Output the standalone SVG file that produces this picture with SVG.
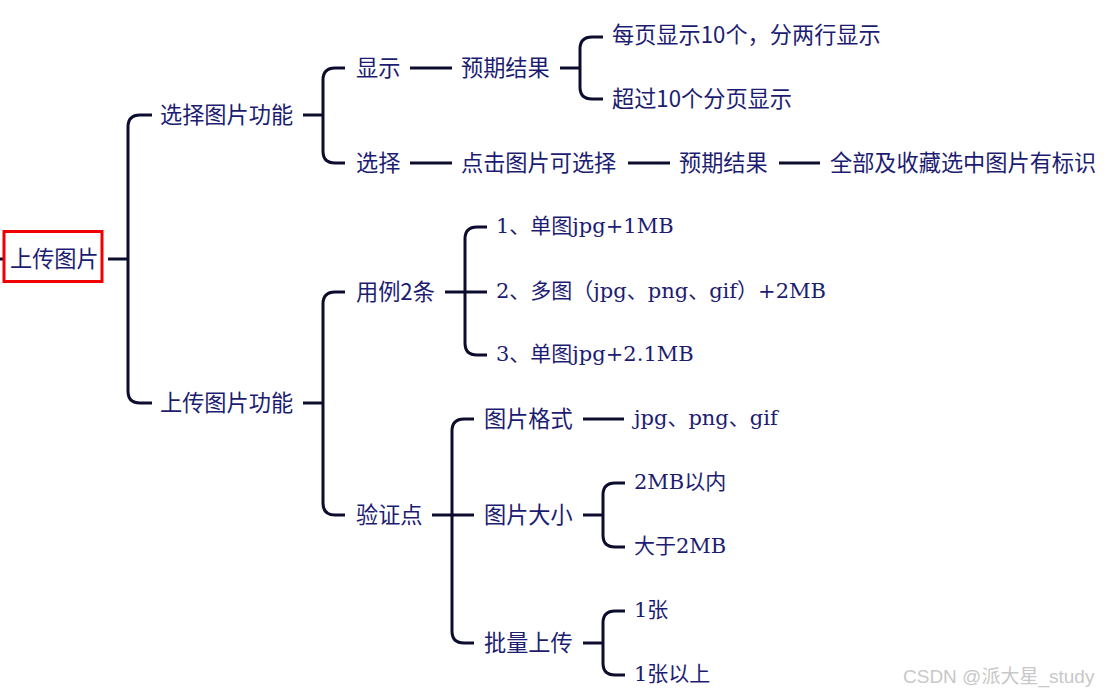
<svg xmlns="http://www.w3.org/2000/svg" width="1118" height="696" viewBox="0 0 1118 696">
<style>
.t{font-family:"Noto Sans CJK SC","Noto Sans",sans-serif;font-size:22.2px;fill:#1c1c72;dominant-baseline:central}
.s{font-family:"DejaVu Serif","Noto Sans CJK SC",serif;font-size:21px;fill:#1c1c72;dominant-baseline:central}
.c{fill:none;stroke:#0c0c2e;stroke-width:3;stroke-linecap:butt}
.w{font-family:"Liberation Sans","Noto Sans CJK SC",sans-serif;font-size:19px;fill:#c8c8c8;dominant-baseline:central}
</style>
<rect width="1118" height="696" fill="#fff"/>
<g id="connectors">
<path class="c" d="M0,259H3"/>
<path class="c" d="M108,259H128M152,115H140Q128,115 128,127V391Q128,403 140,403H152"/>
<path class="c" d="M303,115H323M345,68H335Q323,68 323,80V151Q323,163 335,163H345"/>
<path class="c" d="M410,68H452M560,68H580M603,37H592Q580,37 580,49V87Q580,99 592,99H603"/>
<path class="c" d="M410,163H452M628,163H670M779,163H820"/>
<path class="c" d="M303,403H323M345,292H335Q323,292 323,304V503Q323,515 335,515H345"/>
<path class="c" d="M445,292H487M487,227H477Q465,227 465,239V343Q465,355 477,355H487"/>
<path class="c" d="M432,515H474M474,419H464Q452,419 452,431V631Q452,643 464,643H474"/>
<path class="c" d="M583,419H624"/>
<path class="c" d="M583,515H603M625,483H615Q603,483 603,495V535Q603,547 615,547H625"/>
<path class="c" d="M583,643H603M625,611H615Q603,611 603,623V663Q603,675 615,675H625"/>
</g>
<g id="root">
<rect x="4" y="231.5" width="98" height="50" fill="#fff" stroke="#f00000" stroke-width="3"/>
<text class="t" x="10" y="257">上传图片</text>
</g>
<g id="n-select-func"><text class="t" x="160" y="113">选择图片功能</text></g>
<g id="n-show"><text class="t" x="356" y="66">显示</text></g>
<g id="n-expect1"><text class="t" x="461" y="66">预期结果</text></g>
<g id="n-page10"><text class="t" x="612" y="33">每页显示10个，分两行显示</text></g>
<g id="n-over10"><text class="t" x="612" y="97">超过10个分页显示</text></g>
<g id="n-select"><text class="t" x="356" y="161">选择</text></g>
<g id="n-click"><text class="t" x="461" y="161">点击图片可选择</text></g>
<g id="n-expect2"><text class="t" x="679" y="161">预期结果</text></g>
<g id="n-mark"><text class="t" x="830" y="161">全部及收藏选中图片有标识</text></g>
<g id="n-upload-func"><text class="t" x="160" y="401">上传图片功能</text></g>
<g id="n-cases"><text class="t" x="356" y="290">用例2条</text></g>
<g id="n-case1"><text class="s" x="496" y="226">1、单图jpg+1MB</text></g>
<g id="n-case2"><text class="s" x="496" y="291">2、多图（jpg、png、gif）+2MB</text></g>
<g id="n-case3"><text class="s" x="496" y="354">3、单图jpg+2.1MB</text></g>
<g id="n-check"><text class="t" x="356" y="513">验证点</text></g>
<g id="n-format"><text class="t" x="484" y="417">图片格式</text></g>
<g id="n-formats"><text class="s" x="634" y="418">jpg、png、gif</text></g>
<g id="n-size"><text class="t" x="484" y="513">图片大小</text></g>
<g id="n-size1"><text class="s" x="634" y="482">2MB以内</text></g>
<g id="n-size2"><text class="s" x="634" y="546">大于2MB</text></g>
<g id="n-batch"><text class="t" x="484" y="641">批量上传</text></g>
<g id="n-batch1"><text class="s" x="634" y="610">1张</text></g>
<g id="n-batch2"><text class="s" x="634" y="674">1张以上</text></g>
<text class="w" x="903" y="676">CSDN @派大星_study</text>
</svg>
